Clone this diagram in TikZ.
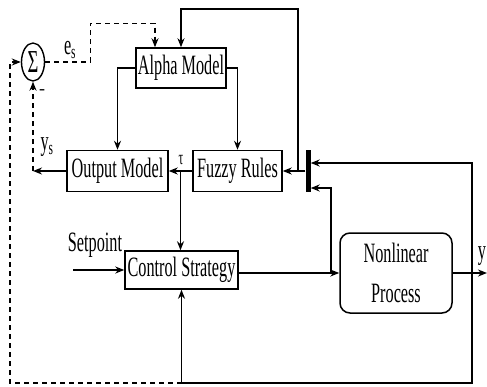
\documentclass[tikz,border=0pt]{standalone}
\usepackage{fontspec}
\setmainfont{Liberation Serif}
\usepackage{graphicx}
\usetikzlibrary{shapes.geometric, arrows.meta, positioning, calc}
\newcommand{\narrow}[1]{\scalebox{0.58}[1]{#1}}

\begin{document}
\begin{tikzpicture}[
    x=1pt, y=-1pt,
    font=\fontsize{28}{30}\selectfont,
    block/.style={rectangle, draw, line width=1.5pt, inner sep=0pt, align=center},
    process/.style={rectangle, draw, line width=1.5pt, rounded corners=10pt, minimum width=112pt, minimum height=80pt, inner sep=0pt, align=center},
    sumnode/.style={ellipse, draw, line width=1.4pt, minimum width=23pt, minimum height=38pt, inner sep=0pt},
    edge/.style={-{Stealth[length=9pt,width=7pt]}, line width=1.6pt},
    dashededge/.style={-{Stealth[length=9pt,width=7pt]}, line width=1.4pt, dash pattern=on 5pt off 4pt},
    lbl/.style={inner sep=0pt}
]
\useasboundingbox (0,0) rectangle (487,386);

% Nodes
\node[sumnode] (sum) at (33,62) {\narrow{\fontsize{32}{32}\selectfont Σ}};
\node[block, minimum width=90pt, minimum height=40pt] (alpha) at (181,68) {\narrow{Alpha Model}};
\node[block, minimum width=101pt, minimum height=41pt] (output) at (117.5,171) {\narrow{Output Model}};
\node[block, minimum width=89pt, minimum height=41pt] (fuzzy) at (237.5,171) {\narrow{Fuzzy Rules}};
\node[block, minimum width=113pt, minimum height=38pt] (control) at (181.5,270) {\narrow{Control Strategy}};
\node[process] (plant) at (396,273) {\narrow{Nonlinear}\\[10pt]\narrow{Process}};
\node[fill, minimum width=5pt, minimum height=42pt, inner sep=0pt] (bar) at (308,171) {};

% Labels
\node[lbl] (es) at (70,50) {\narrow{e\textsubscript{s}}};
\node[lbl] (ys) at (47,147) {\narrow{y\textsubscript{s}}};
\node[lbl, font=\fontsize{20}{22}\selectfont] (tau) at (181,160) {\narrow{τ}};
\node[lbl] (yout) at (482,256) {\narrow{y}};
\node[lbl] (setp) at (95,245) {\narrow{Setpoint}};
\node[lbl, font=\fontsize{18}{20}\selectfont] (minus) at (42,92) {-};

% Junctions
\coordinate (tj) at ($(fuzzy.west)!0.5!(output.east)$);
\coordinate (fj) at (298,171);
\coordinate (cj) at (331,273);
\coordinate (yj) at (472,273);
\coordinate (yend) at (487,273);
\coordinate (bc) at (472,383);
\coordinate (bl) at (10,383);
\coordinate (sp) at (73,270);
\coordinate (yscorner) at (sum.south |- output.west);

% Edges
\draw[edge] (alpha.west) -| (output.north);
\draw[edge] (alpha.east) -| (fuzzy.north);
\draw[edge] (fuzzy.west) -- (output.east);
\draw[edge] (tj) -- (tj |- control.north);
\draw[edge] (output.west) -- (yscorner);
\draw[dashededge] (yscorner) -- (sum.south);
\draw[dashededge] (sum.east) -- ++(45,0) |- ([xshift=-26pt,yshift=24pt]alpha.north) -- ([xshift=-26pt]alpha.north);
\draw[edge] (bar.west) -- (fuzzy.east);
\draw[edge] (fj) -- ++(0,-162) -| (alpha.north);
\draw[edge] (sp) -- (control.west);
\draw[edge] (control.east |- plant.west) -- (plant.west);
\draw[edge] (cj) |- ([yshift=-17pt]bar.east);
\draw[edge] (plant.east) -- (yend);
\draw[edge] (yj) |- ([yshift=8pt]bar.east);
\draw[edge] (yj) -- (bc) -| (control.south);
\draw[dashededge] (control.south |- bc) -- (bl) |- (sum.west);

\end{tikzpicture}
\end{document}
